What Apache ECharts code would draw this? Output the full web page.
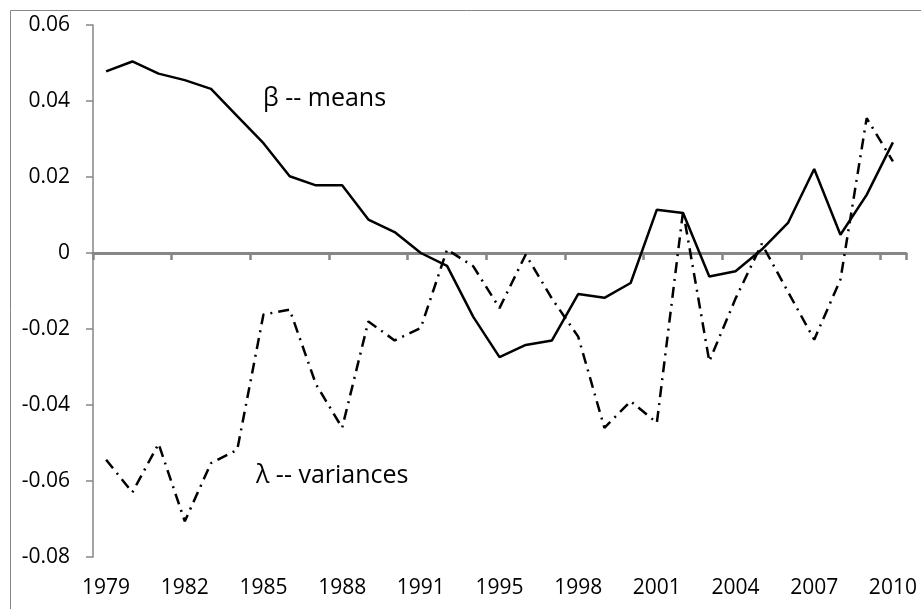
<!DOCTYPE html>
<html>
<head>
<meta charset="utf-8">
<script src="https://cdn.jsdelivr.net/npm/echarts@6/dist/echarts.min.js"></script>
<style>
  html, body { margin: 0; padding: 0; background: #fff; }
  #chart { width: 921px; height: 609px; }
</style>
</head>
<body>
<div id="chart"></div>
<script>
// one year (1992) is absent from the source series
const years = ['1979','1980','1981','1982','1983','1984','1985','1986','1987','1988','1989','1990','1991',
  '1993','1994','1995','1996','1997','1998','1999','2000','2001','2002','2003','2004','2005','2006','2007','2008','2009','2010']

const betaMeans = [0.0478, 0.0504, 0.0472, 0.0455, 0.0432, 0.036, 0.0289, 0.0202, 0.0178, 0.0178, 0.0088, 0.0055, 0.0,
  -0.0034, -0.0168, -0.0274, -0.0242, -0.023, -0.0108, -0.0118, -0.0079, 0.0114, 0.0105, -0.0062, -0.0048, 0.0009,
  0.0079, 0.0221, 0.0048, 0.0153, 0.0291]

const lambdaVariances = [-0.0544, -0.063, -0.0502, -0.0706, -0.0553, -0.0518, -0.0162, -0.0149, -0.0345, -0.046, -0.018,
  -0.023, -0.0197, 0.0009, -0.0035, -0.0145, -0.0004, -0.012, -0.022, -0.046, -0.039, -0.0447, 0.011, -0.0285, -0.012,
  0.0024, -0.0102, -0.0228, -0.007, 0.0355, 0.0241]

const FONT = 'Open Sans'
const axisGray = '#868686'

const chart = echarts.init(document.getElementById('chart'))

chart.setOption({
  animation: false,
  backgroundColor: '#fff',
  grid: { left: 93, right: 15, top: 25, bottom: 52, outerBoundsMode: 'none' },
  xAxis: [
    {
      // axis line that crosses at zero, ticks every 3 years (labels hidden)
      type: 'category',
      data: years,
      axisLine: { show: true, onZero: true, lineStyle: { color: axisGray, width: 3 } },
      axisTick: { show: true, interval: 2, length: 7, lineStyle: { color: axisGray, width: 2.5 } },
      axisLabel: { show: true, interval: 2, color: 'rgba(0,0,0,0)', fontSize: 1 },
      splitLine: { show: false }
    },
    {
      // year labels along the bottom
      type: 'category',
      data: years,
      position: 'bottom',
      axisLine: { show: false, onZero: false },
      axisTick: { show: false },
      axisLabel: { interval: 2, margin: 21, color: '#000', fontFamily: FONT, fontSize: 21 },
      splitLine: { show: false }
    }
  ],
  yAxis: {
    type: 'value',
    min: -0.08,
    max: 0.06,
    interval: 0.02,
    axisLine: { show: true, onZero: false, lineStyle: { color: axisGray, width: 1.5 } },
    axisTick: { show: true, length: 7, lineStyle: { color: axisGray, width: 1.5 } },
    axisLabel: {
      margin: 23, color: '#000', fontFamily: FONT, fontSize: 21,
      formatter: v => Math.abs(v) < 1e-9 ? '0' : v.toFixed(2)
    },
    splitLine: { show: false }
  },
  series: [
    {
      name: 'β -- means',
      type: 'line',
      data: betaMeans,
      symbol: 'none',
      lineStyle: { color: '#000', width: 2.5 },
      z: 3
    },
    {
      name: 'λ -- variances',
      type: 'line',
      data: lambdaVariances,
      symbol: 'none',
      lineStyle: { color: '#000', width: 2.5, type: [11, 6, 2, 6] },
      z: 2
    }
  ],
  graphic: [
    {
      type: 'rect',
      shape: { x: 10.5, y: 10.5, width: 920, height: 610 },
      style: { fill: 'none', stroke: axisGray, lineWidth: 1 },
      silent: true
    },
    {
      type: 'text',
      x: 263, y: 99,
      style: { text: 'β -- means', font: '25px ' + FONT, fill: '#000', textVerticalAlign: 'middle' }
    },
    {
      type: 'text',
      x: 256, y: 476,
      style: { text: 'λ -- variances', font: '25px ' + FONT, fill: '#000', textVerticalAlign: 'middle' }
    }
  ]
})
</script>
</body>
</html>
